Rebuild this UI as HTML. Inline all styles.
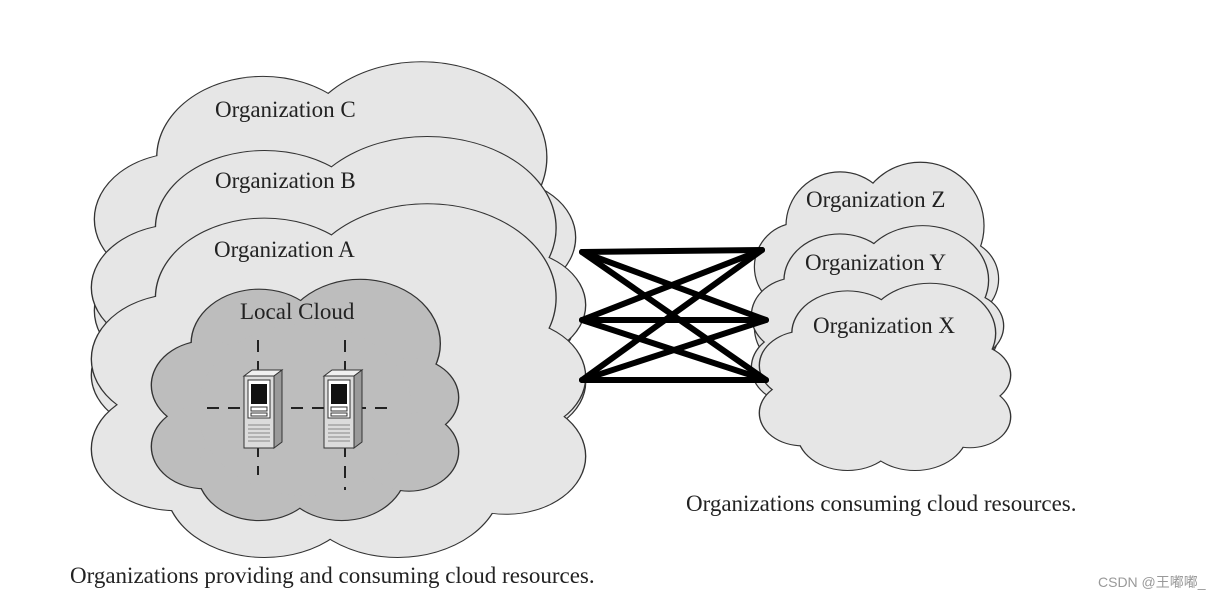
<!DOCTYPE html>
<html><head><meta charset="utf-8"><style>
html,body{margin:0;padding:0;background:#fff;}
svg{display:block;}
text{font-family:"Liberation Serif",serif;fill:#222;}
</style></head><body>
<svg width="1229" height="597" viewBox="0 0 1229 597" xmlns="http://www.w3.org/2000/svg">
<defs>
<g id="cl">
<ellipse cx="35" cy="28" rx="22" ry="22"/><ellipse cx="68" cy="28" rx="26" ry="26"/>
<ellipse cx="18" cy="45" rx="18" ry="18"/><ellipse cx="84" cy="50" rx="16" ry="16"/>
<ellipse cx="17" cy="70" rx="17" ry="17"/><ellipse cx="35" cy="80" rx="20" ry="20"/>
<ellipse cx="62" cy="79" rx="21" ry="21"/><ellipse cx="84" cy="72" rx="16" ry="16"/>
<ellipse cx="50" cy="55" rx="35" ry="35"/>
</g>
<g id="srv">
<polygon points="0,6 8,0 38,0 30,6" fill="#f0f0f0" stroke="#333" stroke-width="1"/>
<polygon points="30,6 38,0 38,72 30,78" fill="#9a9a9a" stroke="#333" stroke-width="1"/>
<rect x="0" y="6" width="30" height="72" fill="#dcdcdc" stroke="#333" stroke-width="1"/>
<rect x="4" y="10" width="22" height="38" fill="#fff" stroke="#333" stroke-width="1"/>
<rect x="7" y="14" width="16" height="20" fill="#111"/>
<rect x="7" y="37" width="16" height="4" fill="#fff" stroke="#333" stroke-width="1"/>
<rect x="7" y="43" width="16" height="3" fill="#fff" stroke="#333" stroke-width="1"/>
<g stroke="#888" stroke-width="1"><line x1="4" y1="55" x2="26" y2="55"/><line x1="4" y1="59" x2="26" y2="59"/><line x1="4" y1="63" x2="26" y2="63"/><line x1="4" y1="67" x2="26" y2="67"/><line x1="4" y1="71" x2="26" y2="71"/></g>
</g>
</defs>
<g transform="translate(95,55) scale(4.8,3.65)"><use href="#cl" fill="#333" stroke="#333" stroke-width="0.55"/><use href="#cl" fill="#e6e6e6"/></g>
<g transform="translate(92,130) scale(4.93,3.5)"><use href="#cl" fill="#333" stroke="#333" stroke-width="0.55"/><use href="#cl" fill="#e6e6e6"/></g>
<g transform="translate(92,197) scale(4.93,3.6)"><use href="#cl" fill="#333" stroke="#333" stroke-width="0.55"/><use href="#cl" fill="#e6e6e6"/></g>
<g transform="translate(152,275) scale(3.06,2.45)"><use href="#cl" fill="#333" stroke="#333" stroke-width="0.9"/><use href="#cl" fill="#bdbdbd"/></g>
<g transform="translate(755,158) scale(2.43,2.42)"><use href="#cl" fill="#333" stroke="#333" stroke-width="1"/><use href="#cl" fill="#e6e6e6"/></g>
<g transform="translate(752,222) scale(2.51,2.08)"><use href="#cl" fill="#333" stroke="#333" stroke-width="1.05"/><use href="#cl" fill="#e6e6e6"/></g>
<g transform="translate(760,280) scale(2.5,1.9)"><use href="#cl" fill="#333" stroke="#333" stroke-width="1.1"/><use href="#cl" fill="#e6e6e6"/></g>

<g stroke="#000" stroke-width="6" stroke-linecap="round">
<line x1="582" y1="252" x2="762" y2="250"/><line x1="582" y1="252" x2="766" y2="320"/><line x1="582" y1="252" x2="766" y2="380"/>
<line x1="582" y1="320" x2="762" y2="250"/><line x1="582" y1="320" x2="766" y2="320"/><line x1="582" y1="320" x2="766" y2="380"/>
<line x1="582" y1="380" x2="762" y2="250"/><line x1="582" y1="380" x2="766" y2="320"/><line x1="582" y1="380" x2="766" y2="380"/>
</g>

<g stroke="#222" stroke-width="2" stroke-dasharray="12,9">
<line x1="207" y1="408" x2="393" y2="408"/>
<line x1="258" y1="340" x2="258" y2="475"/>
<line x1="345" y1="340" x2="345" y2="490"/>
</g>
<g transform="translate(244,370)"><use href="#srv"/></g>
<g transform="translate(324,370)"><use href="#srv"/></g>

<text x="215" y="117" font-size="23">Organization C</text>
<text x="215" y="188" font-size="23">Organization B</text>
<text x="214" y="257" font-size="23">Organization A</text>
<text x="240" y="319" font-size="23">Local Cloud</text>
<text x="806" y="207" font-size="23">Organization Z</text>
<text x="805" y="270" font-size="23">Organization Y</text>
<text x="813" y="333" font-size="23">Organization X</text>
<text x="686" y="511" font-size="23">Organizations consuming cloud resources.</text>
<text x="70" y="583" font-size="23">Organizations providing and consuming cloud resources.</text>
<text x="1098" y="587" font-size="14" style="font-family:'Liberation Sans','Noto Sans CJK SC',sans-serif;fill:#999">CSDN @王嘟嘟_</text>
</svg>
</body></html>
